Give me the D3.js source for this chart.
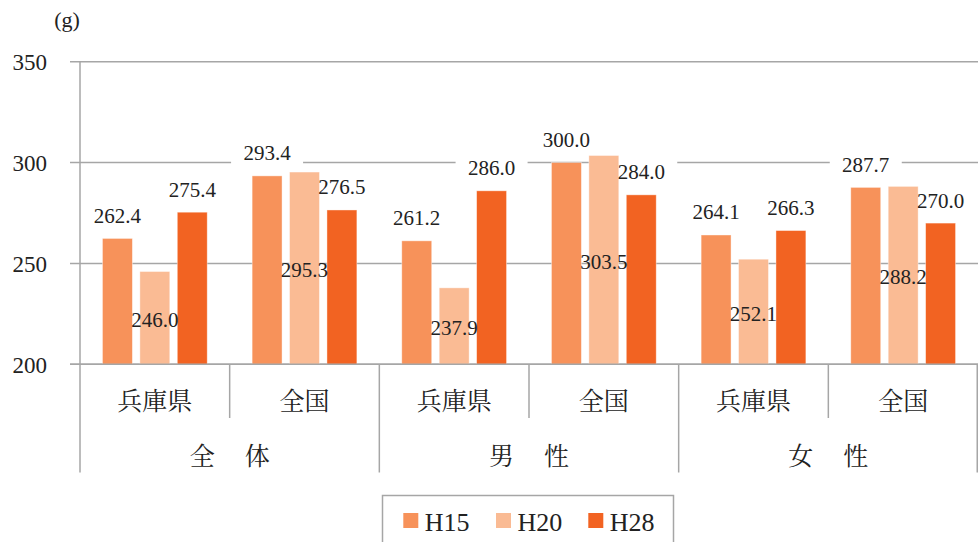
<!DOCTYPE html>
<html>
<head>
<meta charset="utf-8">
<script src="https://cdn.jsdelivr.net/npm/d3@7"></script>
<style>
  body { margin: 0; background: #fff; }
  svg { display: block; }
</style>
</head>
<body>
<div id="chart"></div>
<script>
// data
const groups = ["全　体", "男　性", "女　性"];
const subgroups = ["兵庫県", "全国"];
const series = ["H15", "H20", "H28"];
const h15 = [262.4, 293.4, 261.2, 300.0, 264.1, 287.7];
const h20 = [246.0, 295.3, 237.9, 303.5, 252.1, 288.2];
const h28 = [275.4, 276.5, 286.0, 284.0, 266.3, 270.0];
const yTicks = [200, 250, 300, 350];
const colours = ["#f7925a", "#fabb94", "#f26322"];

const W = 978, H = 542;
const plotL = 80, plotR = 978, plotT = 61.7, plotB = 364.3;
const serifFont = "'Liberation Serif', monospace";
const jpFont = "'Noto Serif CJK JP', monospace";

// one row per bar cluster
let cells = [];
groups.forEach(function(g, gi) {
  subgroups.forEach(function(s, si) {
    let i = gi * subgroups.length + si;
    cells.push({ key: i, group: g, sub: s, values: [h15[i], h20[i], h28[i]] });
  });
});

let svg = d3.select("#chart").append("svg")
  .attr("width", W).attr("height", H);

let x0 = d3.scaleBand().domain(cells.map(d => d.key)).range([plotL, plotR]).padding(0);
let x1 = d3.scaleBand().domain(series).range([0, x0.bandwidth()])
  .paddingInner(0.2).paddingOuter(0.6);
let y = d3.scaleLinear().domain([200, 350]).range([plotB, plotT]);

function barData(d) {
  return d.values.map((v, k) => ({ s: series[k], k: k, v: v }));
}
function labelX(d) { return x1(d.s) + x1.bandwidth() / 2; }
function labelY(d) { return d.k === 1 ? (y(d.v) + plotB) / 2 + 2 : y(d.v) - 22.5; }

// gridlines + tick labels
svg.append("g").selectAll("line")
  .data(yTicks).enter().append("line")
  .attr("x1", 70).attr("x2", plotR)
  .attr("y1", d => y(d)).attr("y2", d => y(d))
  .attr("stroke", "#a6a6a6").attr("stroke-width", 1.5);

svg.append("g").selectAll("text")
  .data(yTicks).enter().append("text")
  .attr("x", 47).attr("y", d => y(d) + 1)
  .attr("text-anchor", "end").attr("dominant-baseline", "central")
  .style("font-family", serifFont).style("font-size", "23px").style("fill", "#222")
  .text(d => d);

svg.append("text")
  .attr("x", 67).attr("y", 19)
  .attr("text-anchor", "middle").attr("dominant-baseline", "central")
  .style("font-family", serifFont).style("font-size", "22px").style("fill", "#222")
  .text("(g)");

let cluster = svg.append("g").selectAll("g")
  .data(cells).enter().append("g")
  .attr("transform", d => "translate(" + x0(d.key) + ",0)");

// white label boxes (H15/H28) sit over gridlines but under bars
cluster.selectAll("rect.box")
  .data(d => barData(d).filter(b => b.k !== 1))
  .enter().append("rect").attr("class", "box")
  .attr("x", d => labelX(d) - 36).attr("width", 72)
  .attr("y", d => labelY(d) - 14).attr("height", 28)
  .attr("fill", "#fff");

// bars
cluster.selectAll("rect.bar")
  .data(barData)
  .enter().append("rect").attr("class", "bar")
  .attr("x", d => x1(d.s))
  .attr("width", x1.bandwidth())
  .attr("y", d => y(d.v))
  .attr("height", d => plotB - y(d.v))
  .attr("fill", d => colours[d.k])
  .attr("stroke", "rgba(255,255,255,0.5)").attr("stroke-width", 0.8);

// labels
cluster.selectAll("text.lbl")
  .data(barData)
  .enter().append("text").attr("class", "lbl")
  .attr("x", labelX).attr("y", labelY)
  .attr("text-anchor", "middle").attr("dominant-baseline", "central")
  .style("font-family", serifFont).style("font-size", "21px").style("fill", "#222")
  .text(d => d3.format(".1f")(d.v));

// baseline and category axis
svg.append("line")
  .attr("x1", 70).attr("x2", plotR).attr("y1", plotB).attr("y2", plotB)
  .attr("stroke", "#a6a6a6").attr("stroke-width", 1.5);
svg.append("line")
  .attr("x1", plotL).attr("x2", plotL).attr("y1", plotT).attr("y2", 472.5)
  .attr("stroke", "#a6a6a6").attr("stroke-width", 1.5);

svg.append("g").selectAll("line")
  .data(cells.slice(1)).enter().append("line")
  .attr("x1", d => x0(d.key)).attr("x2", d => x0(d.key))
  .attr("y1", plotB).attr("y2", d => d.key % 2 === 0 ? 472.5 : 418)
  .attr("stroke", "#a6a6a6").attr("stroke-width", 1.5);
svg.append("line")
  .attr("x1", plotR - 0.75).attr("x2", plotR - 0.75).attr("y1", plotB).attr("y2", 472.5)
  .attr("stroke", "#a6a6a6").attr("stroke-width", 1.5);

svg.append("g").selectAll("text")
  .data(cells).enter().append("text")
  .attr("x", d => x0(d.key) + x0.bandwidth() / 2)
  .attr("y", 398.5)
  .attr("text-anchor", "middle").attr("dominant-baseline", "central")
  .style("font-family", jpFont).style("font-size", "25px").style("fill", "#222")
  .text(d => d.sub);

svg.append("g").selectAll("text")
  .data(groups).enter().append("text")
  .attr("x", (d, i) => x0(i * 2) + x0.bandwidth() + 1.25)
  .attr("y", 453.5)
  .attr("text-anchor", "middle").attr("dominant-baseline", "central")
  .style("font-family", jpFont).style("font-size", "25px").style("fill", "#222")
  .style("letter-spacing", "2.5px")
  .text(d => d);

// legend
let legend = svg.append("g");
legend.append("rect")
  .attr("x", 382.5).attr("y", 495.5).attr("width", 291).attr("height", 60)
  .attr("fill", "none").attr("stroke", "#a6a6a6").attr("stroke-width", 1.5);
let legendX = [403.3, 496, 588.3];
let item = legend.selectAll("g.item")
  .data(series).enter().append("g").attr("class", "item")
  .attr("transform", (d, i) => "translate(" + legendX[i] + ",513)");
item.append("rect")
  .attr("width", 15).attr("height", 15)
  .attr("fill", (d, i) => colours[i]);
item.append("text")
  .attr("x", 21.5).attr("y", 17.7)
  .style("font-family", serifFont).style("font-size", "26px").style("fill", "#222")
  .text(d => d);
</script>
</body>
</html>
